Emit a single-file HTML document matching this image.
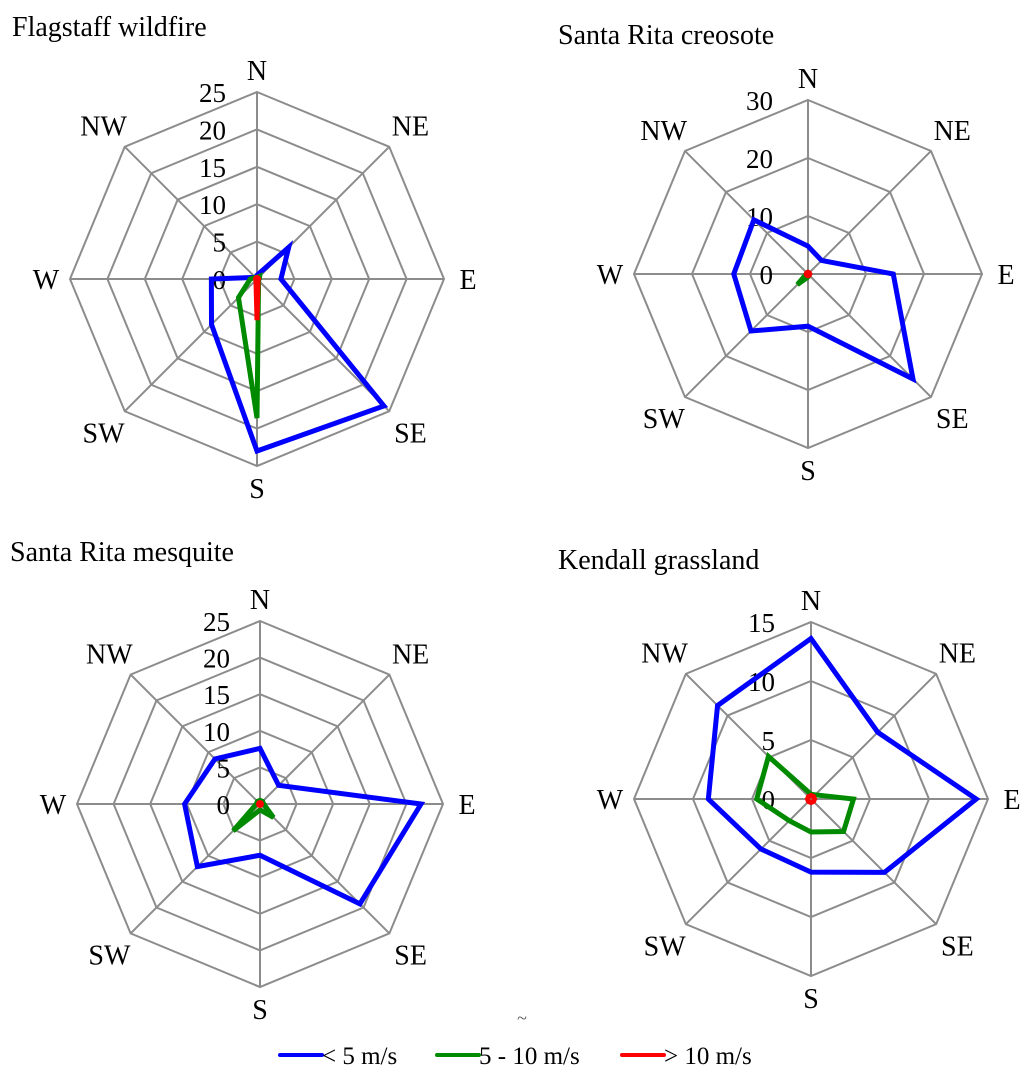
<!DOCTYPE html>
<html><head><meta charset="utf-8"><style>
html,body{margin:0;padding:0;background:#fff;}
svg{display:block;font-family:"Liberation Serif",serif;}
</style></head><body>
<svg id="s" width="1024" height="1079" viewBox="0 0 1024 1079"></svg>
<script>
const directions = ["N","NE","E","SE","S","SW","W","NW"];
const seriesNames = ["< 5 m/s","5 - 10 m/s","> 10 m/s"];
const titles = ["Flagstaff wildfire","Santa Rita creosote","Santa Rita mesquite","Kendall grassland"];
const maxValues = [25,30,25,15];
const tickSteps = [5,10,5,5];
// values per direction N,NE,E,SE,S,SW,W,NW
const flagstaffLow = [0.5,6,3.2,24,23,8.6,6.1,0.3];
const flagstaffMid = [0.2,0.5,0.3,0.3,18.6,3.5,0.9,0.3];
const flagstaffHigh = [0.2,0.2,0.2,0.2,5.5,0.2,0.2,0.2];
const creosoteLow = [4.8,3.3,14.7,25.6,9,13.9,12.8,13.2];
const creosoteMid = [0.3,0.3,0.3,0.3,0.5,2.6,0.3,0.3];
const creosoteHigh = [0.3,0.3,0.3,0.3,0.3,0.3,0.3,0.3];
const mesquiteLow = [7.6,3.6,22,19.3,7,12.1,10.3,8.7];
const mesquiteMid = [0.5,0.5,0.5,2.6,0.8,5.2,0.5,0.5];
const mesquiteHigh = [0.2,0.2,0.2,0.2,0.2,0.2,0.2,0.2];
const kendallLow = [13.6,8,14,8.8,6.2,6,8.7,11.2];
const kendallMid = [0.4,0.5,3.6,3.9,2.8,2.6,4.6,5.1];
const kendallHigh = [0.3,0.3,0.3,0.3,0.3,0.3,0.3,0.3];

const charts=[
 {cx:257,cy:279,R:187,tx:12,ty:36,data:[flagstaffLow,flagstaffMid,flagstaffHigh],lx:226},
 {cx:808,cy:274,R:174,tx:558,ty:44,data:[creosoteLow,creosoteMid,creosoteHigh],lx:773},
 {cx:260,cy:804,R:183,tx:10,ty:561,data:[mesquiteLow,mesquiteMid,mesquiteHigh],lx:230},
 {cx:811,cy:799,R:177,tx:558,ty:569,data:[kendallLow,kendallMid,kendallHigh],lx:775}
];
const colors=["#0000ff","#008a00","#ff0000"];
const NS="http://www.w3.org/2000/svg";
const svg=document.getElementById('s');
function mk(tag,attrs,parent){const e=document.createElementNS(NS,tag);for(const k in attrs)e.setAttribute(k,attrs[k]);(parent||svg).appendChild(e);return e;}
charts.forEach((c,ci)=>{
  const g=mk('g',{});
  
  
  const max=maxValues[ci],step=tickSteps[ci];
  const pt=(i,v)=>{const a=i*Math.PI/4;const r=v/max*c.R;return [c.cx+r*Math.sin(a),c.cy-r*Math.cos(a)];};
  for(let v=step;v<=max+0.001;v+=step){
    const p=directions.map((d,i)=>pt(i,v).join(',')).join(' ');
    const ring=mk('polygon',{points:p,fill:'none',stroke:'#8c8c8c','stroke-width':2},g);
    
    
  }
  directions.forEach((d,i)=>{
    const [x,y]=pt(i,max);
    const sp=mk('line',{x1:c.cx,y1:c.cy,x2:x,y2:y,stroke:'#8c8c8c','stroke-width':2},g);
    
    
    const a=i*Math.PI/4;
    const off=(i%4===2)?24:((i%4===0)?22:30);
    const lx=x+off*Math.sin(a), ly=y-off*Math.cos(a);
    const t=mk('text',{x:lx,y:ly+10,'font-size':28,'text-anchor':'middle',fill:'#000'},g);
    t.textContent=d;
    
    
  });
  for(let v=0;v<=max+0.001;v+=step){
    const y=c.cy-v/max*c.R;
    const t=mk('text',{x:c.lx,y:y+10,'font-size':27,'text-anchor':'end',fill:'#000'},g);
    t.textContent=v;
    
    
  }
  c.data.forEach((arr,si)=>{
    const p=arr.map((v,i)=>pt(i,v).join(',')).join(' ');
    const pl=mk('polygon',{points:p,fill:'none',stroke:colors[si],'stroke-width':5,'stroke-linejoin':'miter'},g);
    
    
  });
  const tt=mk('text',{x:c.tx,y:c.ty,'font-size':28,fill:'#000'},g);
  tt.textContent=titles[ci];
  
  
});
const tl=mk('text',{x:522,y:1024,'font-size':18,'text-anchor':'middle',fill:'#555'});
tl.textContent='~';


const legX=[280,437,622];
seriesNames.forEach((n,i)=>{
  const g=mk('g',{});
  
  
  mk('line',{x1:legX[i],y1:1055,x2:legX[i]+42,y2:1055,stroke:colors[i],'stroke-width':4,'stroke-linecap':'round'},g);
  const t=mk('text',{x:legX[i]+42,y:1064,'font-size':25,fill:'#000'},g);
  t.textContent=n;
});
</script>
</body></html>
